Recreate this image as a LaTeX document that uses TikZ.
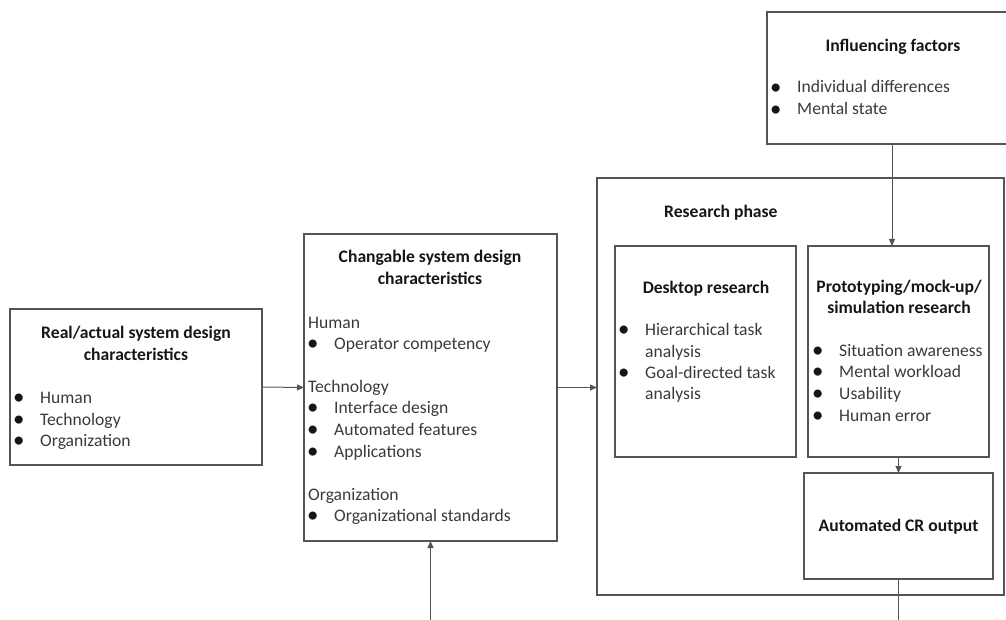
\documentclass[tikz,border=0pt]{standalone}
\usepackage{fontspec}
\setmainfont{Carlito}
\usetikzlibrary{arrows.meta}
\definecolor{linec}{HTML}{555555}
\definecolor{txtc}{HTML}{3A3A3A}
\definecolor{ttlc}{HTML}{161616}
\newcommand\bul{\makebox[27pt][l]{\smash{\color{ttlc}\raisebox{-0.09em}{\scalebox{1.3}{\textbullet}}}}}
\begin{document}
\begin{tikzpicture}[x=1pt,y=-1pt,
  box/.style={draw=linec,line width=1.1pt,inner sep=0pt,outer sep=0pt,fill=none},
  txt/.style={font=\fontsize{17.6}{21.5}\selectfont,inner sep=0pt,anchor=base west,text=txtc},
  btxt/.style={txt,xshift=-27pt},
  ttl/.style={font=\fontsize{17.6}{21.5}\selectfont\bfseries,inner sep=0pt,anchor=base,text=ttlc},
  conn/.style={draw=linec,line width=1pt,-{Triangle[length=7pt,width=6pt]}},
  plain/.style={draw=linec,line width=1pt}]
\useasboundingbox (0,0) rectangle (1006,620);
\clip (0,0) rectangle (1006,620);
% boxes
\node[box,minimum width=252pt,minimum height=156pt] (real) at (136,387) {};
\node[box,minimum width=253pt,minimum height=307pt] (chg) at (430.5,387.5) {};
\node[box,minimum width=407pt,minimum height=417pt] (res) at (800.5,386.5) {};
\node[box,minimum width=181pt,minimum height=211pt] (desk) at (705.5,351.5) {};
\node[box,minimum width=181pt,minimum height=211pt] (proto) at (898.5,351.5) {};
\node[box,minimum width=189pt,minimum height=106pt] (auto) at (898.5,526) {};
\node[box,minimum width=250pt,minimum height=132pt] (infl) at (892,78) {};
% real box text
\node[ttl] (realT1) at (136,338) {Real/actual system design};
\node[ttl] (realT2) at (136,360) {characteristics};
\node[btxt] (realB1) at (40,403) {\bul Human};
\node[btxt] (realB2) at (40,425) {\bul Technology};
\node[btxt] (realB3) at (40,446) {\bul Organization};
% changable box text
\node[ttl] (chgT1) at (430,263) {Changable system design};
\node[ttl] (chgT2) at (430,284) {characteristics};
\node[txt] (chgH1) at (308,328) {Human};
\node[btxt] (chgB1) at (334,349) {\bul Operator competency};
\node[txt] (chgH2) at (308,392) {Technology};
\node[btxt] (chgB2) at (334,413) {\bul Interface design};
\node[btxt] (chgB3) at (334,435) {\bul Automated features};
\node[btxt] (chgB4) at (334,457) {\bul Applications};
\node[txt] (chgH3) at (308,500) {Organization};
\node[btxt] (chgB5) at (334,521) {\bul Organizational standards};
% research phase
\node[ttl,anchor=base west] (resT) at (664,218) {Research phase};
% desktop
\node[ttl] (deskT) at (706,293) {Desktop research};
\node[btxt] (deskB1) at (645,335) {\bul Hierarchical task};
\node[txt] (deskB1b) at (645,357) {analysis};
\node[btxt] (deskB2) at (645,378) {\bul Goal-directed task};
\node[txt] (deskB2b) at (645,399) {analysis};
% prototyping
\node[ttl] (protoT1) at (899,292) {Prototyping/mock-up/};
\node[ttl] (protoT2) at (899,313) {simulation research};
\node[btxt] (protoB1) at (839,356) {\bul Situation awareness};
\node[btxt] (protoB2) at (839,377) {\bul Mental workload};
\node[btxt] (protoB3) at (839,399) {\bul Usability};
\node[btxt] (protoB4) at (839,421) {\bul Human error};
% automated
\node[ttl] (autoT) at (898.5,531) {Automated CR output};
% influencing
\node[ttl] (inflT) at (893,52) {Influencing factors};
\node[btxt] (inflB1) at (797,93) {\bul Individual differences};
\node[btxt] (inflB2) at (797,115) {\bul Mental state};
% connectors
\coordinate (botL) at (430.5,622);
\coordinate (botR) at (898.5,622);
\draw[conn] (real.east) -- (chg.west);
\draw[conn] (chg.east) -- (chg.east -| res.west);
\draw[conn] (infl.south) -- (infl.south |- proto.north);
\draw[conn] (proto.south) -- (auto.north);
\draw[plain] (auto.south) -- (botR);
\draw[conn] (botL) -- (chg.south);
\end{tikzpicture}
\end{document}
